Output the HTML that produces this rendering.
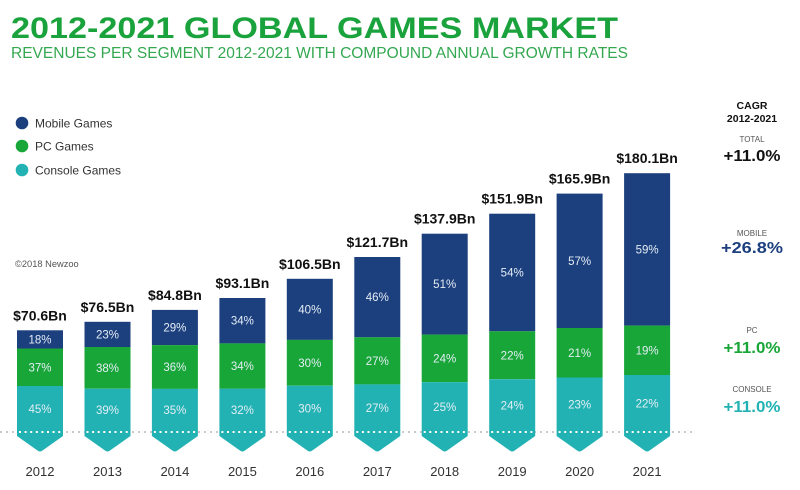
<!DOCTYPE html>
<html><head><meta charset="utf-8"><style>
html,body{margin:0;padding:0;background:#fff;}
svg{display:block;}
text{font-family:"Liberation Sans",sans-serif;}
</style></head><body>
<svg width="800" height="490" viewBox="0 0 800 490" xmlns="http://www.w3.org/2000/svg">
<rect width="800" height="490" fill="#fff"/>
<!-- Title -->
<text x="11" y="38" font-size="30" font-weight="bold" fill="#1aa33c" textLength="607" lengthAdjust="spacingAndGlyphs">2012-2021 GLOBAL GAMES MARKET</text>
<text x="11" y="58" font-size="15.5" fill="#34a851" textLength="617" lengthAdjust="spacingAndGlyphs">REVENUES PER SEGMENT 2012-2021 WITH COMPOUND ANNUAL GROWTH RATES</text>

<!-- Legend -->
<circle cx="22" cy="123" r="6.3" fill="#1c3f7e"/>
<circle cx="22" cy="146" r="6.3" fill="#17a637"/>
<circle cx="22" cy="170" r="6.3" fill="#22b2b3"/>
<text x="35" y="127.5" font-size="12" fill="#333">Mobile Games</text>
<text x="35" y="150.5" font-size="12" fill="#333">PC Games</text>
<text x="35" y="174.5" font-size="12" fill="#333">Console Games</text>
<text x="15" y="267" font-size="9.3" fill="#555">©2018 Newzoo</text>

<!-- dotted baseline -->
<line x1="0" y1="432" x2="696" y2="432" stroke="#c9c9c9" stroke-width="2" stroke-dasharray="2 4"/>

<g>
<!-- 2012 -->
<rect x="17" y="330.3" width="46" height="18.2" fill="#1c3f7e"/>
<rect x="17" y="348.5" width="46" height="37.5" fill="#17a637"/>
<path d="M17 386 H63 V436 L42.5 450.5 Q40 452.5 37.5 450.5 L17 436 Z" fill="#22b2b3"/>
<!-- 2013 -->
<rect x="84.5" y="321.8" width="46" height="25.2" fill="#1c3f7e"/>
<rect x="84.5" y="347" width="46" height="41.7" fill="#17a637"/>
<path d="M84.5 388.7 H130.5 V436 L110 450.5 Q107.5 452.5 105 450.5 L84.5 436 Z" fill="#22b2b3"/>
<!-- 2014 -->
<rect x="151.9" y="309.9" width="46" height="35.2" fill="#1c3f7e"/>
<rect x="151.9" y="345.1" width="46" height="43.8" fill="#17a637"/>
<path d="M151.9 388.9 H197.9 V436 L177.4 450.5 Q174.9 452.5 172.4 450.5 L151.9 436 Z" fill="#22b2b3"/>
<!-- 2015 -->
<rect x="219.4" y="298" width="46" height="45.4" fill="#1c3f7e"/>
<rect x="219.4" y="343.4" width="46" height="45.4" fill="#17a637"/>
<path d="M219.4 388.8 H265.4 V436 L244.9 450.5 Q242.4 452.5 239.9 450.5 L219.4 436 Z" fill="#22b2b3"/>
<!-- 2016 -->
<rect x="286.8" y="278.8" width="46" height="61.1" fill="#1c3f7e"/>
<rect x="286.8" y="339.9" width="46" height="45.8" fill="#17a637"/>
<path d="M286.8 385.7 H332.8 V436 L312.3 450.5 Q309.8 452.5 307.3 450.5 L286.8 436 Z" fill="#22b2b3"/>
<!-- 2017 -->
<rect x="354.3" y="257" width="46" height="80.3" fill="#1c3f7e"/>
<rect x="354.3" y="337.3" width="46" height="47.1" fill="#17a637"/>
<path d="M354.3 384.4 H400.3 V436 L379.8 450.5 Q377.3 452.5 374.8 450.5 L354.3 436 Z" fill="#22b2b3"/>
<!-- 2018 -->
<rect x="421.7" y="233.7" width="46" height="100.9" fill="#1c3f7e"/>
<rect x="421.7" y="334.6" width="46" height="47.5" fill="#17a637"/>
<path d="M421.7 382.1 H467.7 V436 L447.2 450.5 Q444.7 452.5 442.2 450.5 L421.7 436 Z" fill="#22b2b3"/>
<!-- 2019 -->
<rect x="489.2" y="213.7" width="46" height="117.6" fill="#1c3f7e"/>
<rect x="489.2" y="331.3" width="46" height="47.9" fill="#17a637"/>
<path d="M489.2 379.2 H535.2 V436 L514.7 450.5 Q512.2 452.5 509.7 450.5 L489.2 436 Z" fill="#22b2b3"/>
<!-- 2020 -->
<rect x="556.6" y="193.6" width="46" height="134.4" fill="#1c3f7e"/>
<rect x="556.6" y="328" width="46" height="49.5" fill="#17a637"/>
<path d="M556.6 377.5 H602.6 V436 L582.1 450.5 Q579.6 452.5 577.1 450.5 L556.6 436 Z" fill="#22b2b3"/>
<!-- 2021 -->
<rect x="624.1" y="173.2" width="46" height="152.4" fill="#1c3f7e"/>
<rect x="624.1" y="325.6" width="46" height="49.4" fill="#17a637"/>
<path d="M624.1 375 H670.1 V436 L649.6 450.5 Q647.1 452.5 644.6 450.5 L624.1 436 Z" fill="#22b2b3"/>
</g>

<!-- white dots on bars -->
<g stroke="#ffffff" stroke-width="2" stroke-dasharray="2 3.6">
<line x1="19" y1="432" x2="62" y2="432"/>
<line x1="86.5" y1="432" x2="129.5" y2="432"/>
<line x1="153.9" y1="432" x2="196.9" y2="432"/>
<line x1="221.4" y1="432" x2="264.4" y2="432"/>
<line x1="288.8" y1="432" x2="331.8" y2="432"/>
<line x1="356.3" y1="432" x2="399.3" y2="432"/>
<line x1="423.7" y1="432" x2="466.7" y2="432"/>
<line x1="491.2" y1="432" x2="534.2" y2="432"/>
<line x1="558.6" y1="432" x2="601.6" y2="432"/>
<line x1="626.1" y1="432" x2="669.1" y2="432"/>
</g>

<!-- percent labels -->
<g font-size="11.5" fill="#e4edf5" text-anchor="middle">
<text x="40" y="343.4">18%</text>
<text x="40" y="371.3">37%</text>
<text x="40" y="412.8">45%</text>
<text x="107.5" y="338.4">23%</text>
<text x="107.5" y="371.9">38%</text>
<text x="107.5" y="414.1">39%</text>
<text x="174.9" y="331.5">29%</text>
<text x="174.9" y="371">36%</text>
<text x="174.9" y="414.2">35%</text>
<text x="242.4" y="324.7">34%</text>
<text x="242.4" y="370.1">34%</text>
<text x="242.4" y="414.2">32%</text>
<text x="309.8" y="313.4">40%</text>
<text x="309.8" y="366.8">30%</text>
<text x="309.8" y="412.6">30%</text>
<text x="377.3" y="301.2">46%</text>
<text x="377.3" y="364.9">27%</text>
<text x="377.3" y="412">27%</text>
<text x="444.7" y="288.2">51%</text>
<text x="444.7" y="362.4">24%</text>
<text x="444.7" y="410.8">25%</text>
<text x="512.2" y="276.5">54%</text>
<text x="512.2" y="359.3">22%</text>
<text x="512.2" y="409.4">24%</text>
<text x="579.6" y="264.8">57%</text>
<text x="579.6" y="356.8">21%</text>
<text x="579.6" y="408.5">23%</text>
<text x="647.1" y="253.4">59%</text>
<text x="647.1" y="354.3">19%</text>
<text x="647.1" y="407.3">22%</text>
</g>

<!-- totals -->
<g font-size="14" font-weight="bold" fill="#111" text-anchor="middle">
<text x="40" y="320.3">$70.6Bn</text>
<text x="107.5" y="311.8">$76.5Bn</text>
<text x="174.9" y="299.9">$84.8Bn</text>
<text x="242.4" y="288">$93.1Bn</text>
<text x="309.8" y="268.8">$106.5Bn</text>
<text x="377.3" y="247">$121.7Bn</text>
<text x="444.7" y="223.7">$137.9Bn</text>
<text x="512.2" y="203.7">$151.9Bn</text>
<text x="579.6" y="183.6">$165.9Bn</text>
<text x="647.1" y="163.2">$180.1Bn</text>
</g>

<!-- years -->
<g font-size="13" fill="#333" text-anchor="middle">
<text x="40" y="476">2012</text>
<text x="107.5" y="476">2013</text>
<text x="174.9" y="476">2014</text>
<text x="242.4" y="476">2015</text>
<text x="309.8" y="476">2016</text>
<text x="377.3" y="476">2017</text>
<text x="444.7" y="476">2018</text>
<text x="512.2" y="476">2019</text>
<text x="579.6" y="476">2020</text>
<text x="647.1" y="476">2021</text>
</g>

<!-- CAGR column -->
<g text-anchor="middle">
<text x="752" y="109" font-size="10.5" font-weight="bold" fill="#111">CAGR</text>
<text x="752" y="122" font-size="10.5" font-weight="bold" fill="#111">2012-2021</text>
<text x="752" y="142" font-size="8" fill="#555">TOTAL</text>
<text x="752" y="161" font-size="15.5" font-weight="bold" fill="#111" textLength="57" lengthAdjust="spacingAndGlyphs">+11.0%</text>
<text x="752" y="236" font-size="8" fill="#555">MOBILE</text>
<text x="752" y="253" font-size="15.5" font-weight="bold" fill="#1c3f7e" textLength="62" lengthAdjust="spacingAndGlyphs">+26.8%</text>
<text x="752" y="333" font-size="8" fill="#555">PC</text>
<text x="752" y="353" font-size="15.5" font-weight="bold" fill="#17a637" textLength="57" lengthAdjust="spacingAndGlyphs">+11.0%</text>
<text x="752" y="392" font-size="8" fill="#555">CONSOLE</text>
<text x="752" y="412" font-size="15.5" font-weight="bold" fill="#22b2b3" textLength="57" lengthAdjust="spacingAndGlyphs">+11.0%</text>
</g>
</svg>
</body></html>
